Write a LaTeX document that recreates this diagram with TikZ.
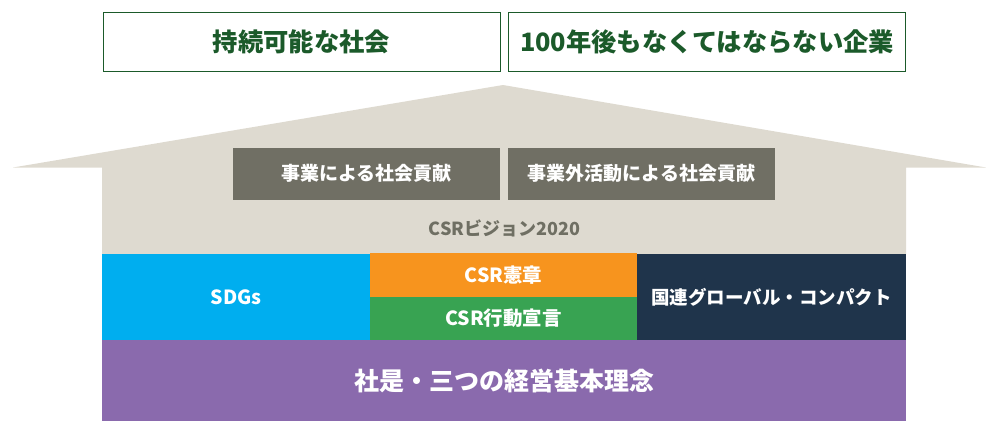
\documentclass[tikz,border=0pt]{standalone}
\usepackage{fontspec}
\setmainfont{Noto Sans CJK JP}
\definecolor{tgreen}{HTML}{1B5A2A}
\definecolor{beige}{HTML}{DEDAD0}
\definecolor{darkbox}{HTML}{706F64}
\definecolor{sdgblue}{HTML}{00AEEF}
\definecolor{csrorange}{HTML}{F7941E}
\definecolor{csrgreen}{HTML}{38A352}
\definecolor{navy}{HTML}{1F344B}
\definecolor{purp}{HTML}{8A6AAD}
\definecolor{visgray}{HTML}{6F6F63}
\tikzset{
  goalbox/.style={draw=tgreen, line width=1pt, fill=white, text=tgreen, font=\fontsize{25.3}{27}\selectfont\bfseries, inner sep=0pt},
  actbox/.style={fill=darkbox, text=white, font=\fontsize{19}{21}\selectfont\bfseries, inner sep=0pt},
  tile/.style={text=white, font=\fontsize{19.5}{21}\selectfont\bfseries, inner sep=0pt},
}
\begin{document}
\begin{tikzpicture}[x=1pt,y=-1pt]
\useasboundingbox (0,0) rectangle (986,421);
% top goals
\node[goalbox, minimum width=397pt, minimum height=59pt] (g1) at (301.5,41.5) {持続可能な社会};
\node[goalbox, minimum width=397pt, minimum height=59pt] (g2) at (707,41.5) {100年後もなくてはならない企業};
% house
\fill[beige] (13,167.5) -- (503,85) -- (986,167.5) -- (906,167.5) -- (906,254) -- (102,254) -- (102,167.5) -- cycle;
\node[actbox, minimum width=267pt, minimum height=52pt] (a1) at (366.5,173.5) {事業による社会貢献};
\node[actbox, minimum width=267pt, minimum height=52pt] (a2) at (641.5,173.5) {事業外活動による社会貢献};
\node[text=visgray, font=\fontsize{18}{20}\selectfont\bfseries] (v) at (504.5,228) {CSRビジョン2020};
% tiles
\node[tile, fill=sdgblue, minimum width=268pt, minimum height=87pt] (sdg) at (236,297) {SDGs};
\node[tile, fill=csrorange, minimum width=267pt, minimum height=43.5pt] (ch) at (503.5,275) {CSR憲章};
\node[tile, fill=csrgreen, minimum width=267pt, minimum height=43.5pt] (dc) at (503.5,318.5) {CSR行動宣言};
\node[tile, fill=navy, minimum width=269pt, minimum height=87pt, font=\fontsize{18.5}{20}\selectfont\bfseries] (gc) at (771.5,297) {国連グローバル・コンパクト};
\node[tile, fill=purp, minimum width=804pt, minimum height=81pt, font=\fontsize{25}{27}\selectfont\bfseries] (base) at (504,380.5) {社是・三つの経営基本理念};
\end{tikzpicture}
\end{document}
